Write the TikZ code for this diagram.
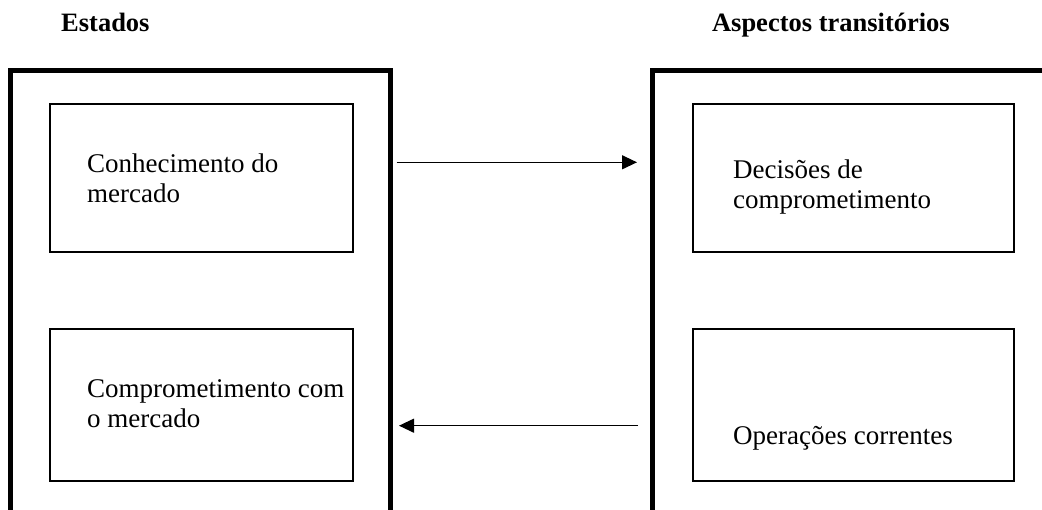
\documentclass[tikz,border=0pt]{standalone}
\usepackage{fontspec}
\setmainfont{Liberation Serif}
\usetikzlibrary{arrows.meta}
\begin{document}
\begin{tikzpicture}[x=1pt,y=-1pt,
  frame/.style={line width=4.5pt},
  box/.style={draw,line width=2pt,inner sep=0pt,anchor=center},
  label/.style={inner sep=0pt,align=left,anchor=base west,font=\fontsize{27}{30}\selectfont},
  head/.style={inner sep=0pt,font=\fontsize{26.5}{30}\selectfont\bfseries},
  conn/.style={line width=1.2pt,-{Triangle[length=15pt,width=14pt]}}]
\useasboundingbox (0,0) rectangle (1042,510);
% frames
\draw[frame] (10.5,520) -- (10.5,70.5) -- (390.5,70.5) -- (390.5,520);
\draw[frame] (652.5,520) -- (652.5,70.5) -- (1060,70.5);
% headings
\node[head,anchor=base west] (h1) at (61,32) {Estados};
\node[head,anchor=base east] (h2) at (950,32) {Aspectos transitórios};
% boxes
\node[box,minimum width=303pt,minimum height=148pt] (b1) at (201.5,178) {};
\node[box,minimum width=303pt,minimum height=151.5pt] (b2) at (201.5,405.25) {};
\node[box,minimum width=321pt,minimum height=148pt] (b3) at (853.5,178) {};
\node[box,minimum width=321pt,minimum height=151.5pt] (b4) at (853.5,405.25) {};
% texts (base anchor = baseline of last line)
\node[label] (t1) at (87,203) {Conhecimento do\\mercado};
\node[label] (t2) at (87,428) {Comprometimento com\\o mercado};
\node[label] (t3) at (733,209) {Decisões de\\comprometimento};
\node[label] (t4) at (733,445) {Operações correntes};
% connector ends on the frames
\coordinate (a1s) at (396.7,162.3);
\coordinate (a1e) at (637,162.3);
\coordinate (a2s) at (638,425.7);
\coordinate (a2e) at (399,425.7);
\draw[conn] (a1s) -- (a1e);
\draw[conn] (a2s) -- (a2e);
\end{tikzpicture}
\end{document}
